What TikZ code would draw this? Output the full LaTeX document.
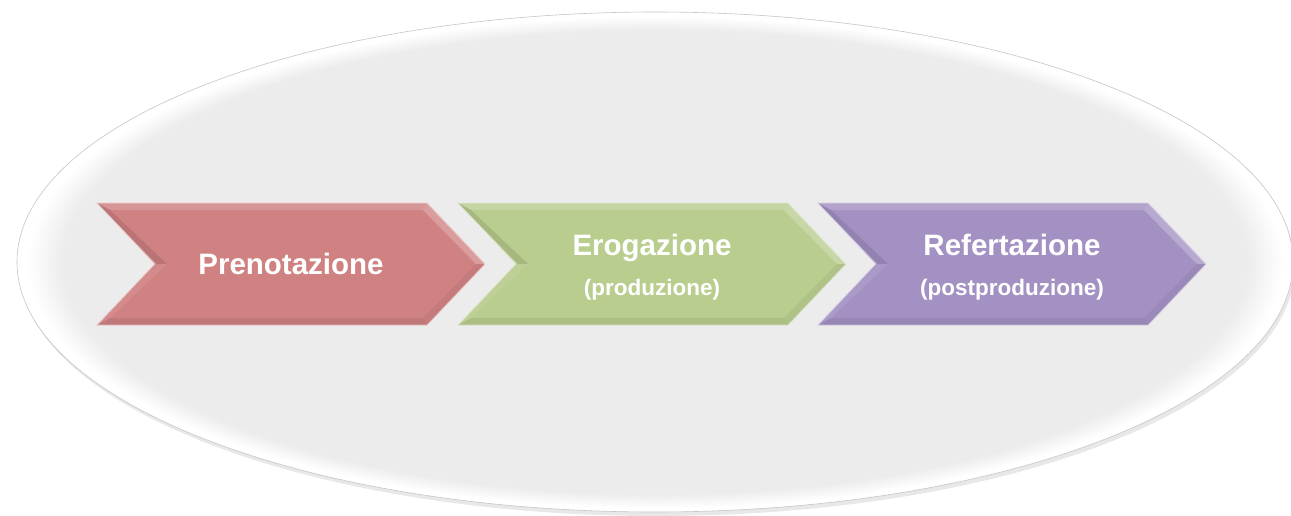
\documentclass[tikz,border=0pt]{standalone}
\usepackage{fontspec}
\setmainfont{Liberation Sans}
\usepackage{tikz}
\usetikzlibrary{shapes.symbols,shadows,calc}

\definecolor{prenored}{HTML}{D08283}
\definecolor{erogreen}{HTML}{B9CD8F}
\definecolor{refviolet}{HTML}{A491C3}
\definecolor{plate}{HTML}{ECECEC}
\pgfdeclareradialshading{platerim}{\pgfpoint{0bp}{0bp}}{color(0bp)=(plate); color(23.2bp)=(plate); color(24.6bp)=(white); color(50bp)=(white)}

\begin{document}
\begin{tikzpicture}[
    x=1pt, y=-1pt,
    chevron/.style={signal, signal from=west, signal to=east, signal pointer angle=93,
        minimum width=388pt, minimum height=122pt, inner sep=0pt,
        draw=white!55!#1, line width=0.8pt, fill=#1, text=white, align=center,
        font=\bfseries\fontsize{29.5}{36}\selectfont},
    facet/.style={fill=#1, draw=none}
]
\clip (0,0) rectangle (1291,515);
\fill[white] (0,0) rectangle (1291,515);
\path[draw=gray!45, line width=0.6pt, shading=platerim,
      drop shadow={shadow xshift=2pt, shadow yshift=-4pt, opacity=0.18}]
    (655,262) ellipse [x radius=638pt, y radius=250pt];

\node[chevron=prenored] (preno) at (291,264) {Prenotazione};
\node[chevron=erogreen] (eroga) at (652,264) {\rule{0pt}{27pt}Erogazione\\[4pt]{\fontsize{22.5}{26}\selectfont(produzione)}};
\node[chevron=refviolet] (refer) at (1012,264) {\rule{0pt}{27pt}Refertazione\\[4pt]{\fontsize{22.5}{26}\selectfont(postproduzione)}};

\foreach \n in {preno,eroga,refer}{
  \fill[facet=white, opacity=0.16] ($(\n)+(-194,-61)$) -- ($(\n)+(136,-61)$) -- ($(\n)+(132,-54)$) -- ($(\n)+(-181,-54)$) -- cycle;
  \fill[facet=white, opacity=0.22] ($(\n)+(136,-61)$) -- ($(\n)+(194,0)$) -- ($(\n)+(185,0)$) -- ($(\n)+(132,-54)$) -- cycle;
  \fill[facet=black, opacity=0.05] ($(\n)+(194,0)$) -- ($(\n)+(136,61)$) -- ($(\n)+(132,54)$) -- ($(\n)+(185,0)$) -- cycle;
  \fill[facet=black, opacity=0.07] ($(\n)+(136,61)$) -- ($(\n)+(-194,61)$) -- ($(\n)+(-181,54)$) -- ($(\n)+(132,54)$) -- cycle;
  \fill[facet=white, opacity=0.08] ($(\n)+(-194,61)$) -- ($(\n)+(-134,0)$) -- ($(\n)+(-124,0)$) -- ($(\n)+(-181,54)$) -- cycle;
  \fill[facet=black, opacity=0.1] ($(\n)+(-194,-61)$) -- ($(\n)+(-134,0)$) -- ($(\n)+(-124,0)$) -- ($(\n)+(-181,-54)$) -- cycle;
}
\end{tikzpicture}
\end{document}
